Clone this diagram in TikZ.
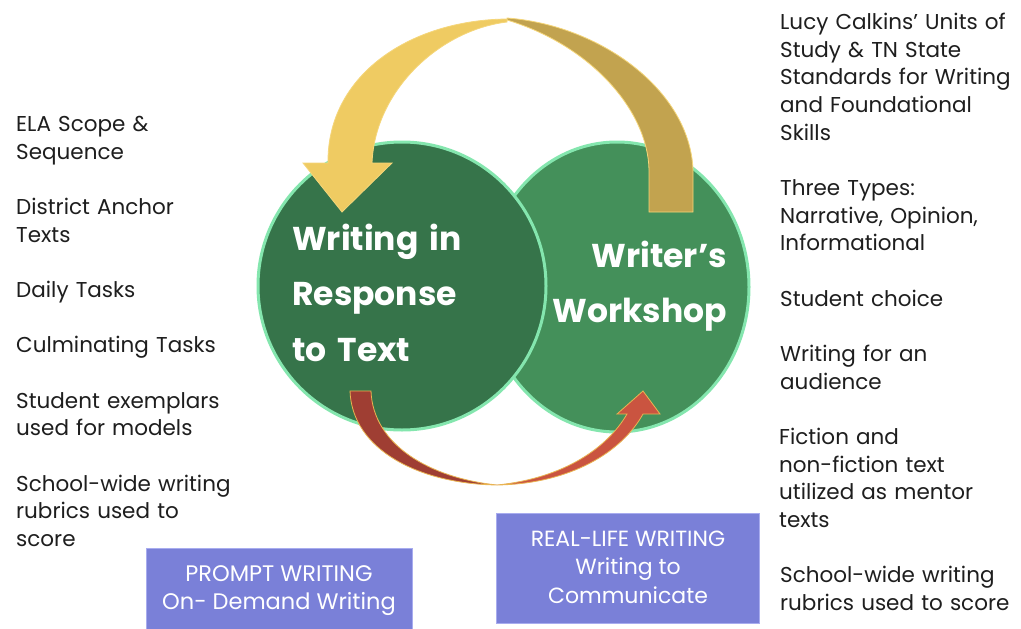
\documentclass[tikz,border=0pt]{standalone}
\usepackage{fontspec}
\setmainfont{Poppins}
\usetikzlibrary{shapes.geometric}

\definecolor{inkblack}{HTML}{1E1E1E}
\definecolor{greenA}{HTML}{36744A}
\definecolor{greenB}{HTML}{44905A}
\definecolor{greenRim}{HTML}{84E6AE}
\definecolor{goldFront}{HTML}{EFCB62}
\definecolor{goldBack}{HTML}{C2A34F}
\definecolor{goldRim}{HTML}{F5D67A}
\definecolor{redBack}{HTML}{9F3E33}
\definecolor{redFront}{HTML}{CA5440}
\definecolor{redRim}{HTML}{E9B452}
\definecolor{boxFill}{HTML}{7A80D8}
\definecolor{boxRim}{HTML}{A8ACEF}

\begin{document}
\begin{tikzpicture}[x=1pt,y=-1pt,
  listtext/.style={anchor=base west, inner sep=0pt, text width=300pt, align=left,
    font=\fontsize{21.5}{27.67}\selectfont, text=inkblack},
  titletext/.style={inner sep=0pt, text width=240pt, text=white,
    font=\fontsize{33}{55.5}\selectfont\bfseries},
  ring/.style={draw=greenRim, line width=3pt},
  labelbox/.style={draw=boxRim, line width=1pt, fill=boxFill, anchor=north west, inner sep=0pt},
  boxtext/.style={align=center, text=white, inner sep=0pt}
]
\useasboundingbox (0,0) rectangle (1021,629);
\fill[white] (0,0) rectangle (1021,629);

% the two overlapping writing modes
\node[ring, fill=greenB, ellipse, minimum width=264pt, minimum height=290pt, inner sep=0pt] (ww) at (617,287) {};
\node[ring, fill=greenA, circle, minimum size=288pt, inner sep=0pt] (wrt) at (402,286) {};

% upper curved arrow: back face, then front face with head
\path[fill=goldBack, draw=goldRim, line width=0.8pt]
  (507,18) .. controls (600,25) and (690,90) .. (693,170) -- (693,212) -- (649,212)
  -- (649,170) .. controls (648,110) and (590,45) .. (507,20) -- cycle;
\path[fill=goldFront, draw=goldRim, line width=0.8pt]
  (507,19) .. controls (410,20) and (327,75) .. (328,163) -- (303,163) -- (342,212)
  -- (392,163) -- (372,163) .. controls (375,90) and (440,30) .. (507,22) -- cycle;

% lower curved arrow
\path[fill=redBack, draw=redRim, line width=0.8pt]
  (350,391) .. controls (352,450) and (420,484) .. (497,485)
  .. controls (430,478) and (373,445) .. (371,391) -- cycle;
\path[fill=redFront, draw=redRim, line width=0.8pt]
  (497,485) .. controls (570,484) and (622,452) .. (643,414) -- (660,414) -- (643,391)
  -- (617,414) -- (627,414) .. controls (608,447) and (565,478) .. (497,485) -- cycle;

% circle titles
\node[titletext, anchor=base west, align=left] (wrtlabel) at (292,250) {Writing in\\Response\\to Text};
\node[titletext, anchor=base east, align=right] (wwlabel) at (727,267) {Writer’s\\Workshop};

% left column
\node[listtext] (l1) at (16,131.5) {ELA Scope \&\\Sequence};
\node[listtext] (l2) at (16,214.5) {District Anchor\\Texts};
\node[listtext] (l3) at (16,297.5) {Daily Tasks};
\node[listtext] (l4) at (16,352.8) {Culminating Tasks};
\node[listtext] (l5) at (16,408.2) {Student exemplars\\used for models};
\node[listtext] (l6) at (16,491.2) {School-wide writing\\rubrics used to\\score};

% right column
\node[listtext] (r1) at (780,29.5) {Lucy Calkins’ Units of\\Study \& TN State\\Standards for Writing\\and Foundational\\Skills};
\node[listtext] (r2) at (780,195.5) {Three Types:\\Narrative, Opinion,\\Informational};
\node[listtext] (r3) at (780,306.2) {Student choice};
\node[listtext] (r4) at (780,361.5) {Writing for an\\audience};
\node[listtext] (r5) at (779,444.5) {Fiction and\\non-fiction text\\utilized as mentor\\texts};
\node[listtext] (r6) at (780,582.9) {School-wide writing\\rubrics used to score};

% mode boxes
\node[labelbox, minimum width=266pt, minimum height=90pt] (prompt) at (146,548) {};
\node[boxtext, font=\fontsize{22.5}{28}\selectfont] (prompttext) at (279,591) {PROMPT WRITING\\On- Demand Writing};
\node[labelbox, minimum width=263pt, minimum height=110pt] (reallife) at (496,513) {};
\node[boxtext, font=\fontsize{22}{28.5}\selectfont] (reallifetext) at (628,567) {REAL-LIFE WRITING\\Writing to\\Communicate};
\end{tikzpicture}
\end{document}
